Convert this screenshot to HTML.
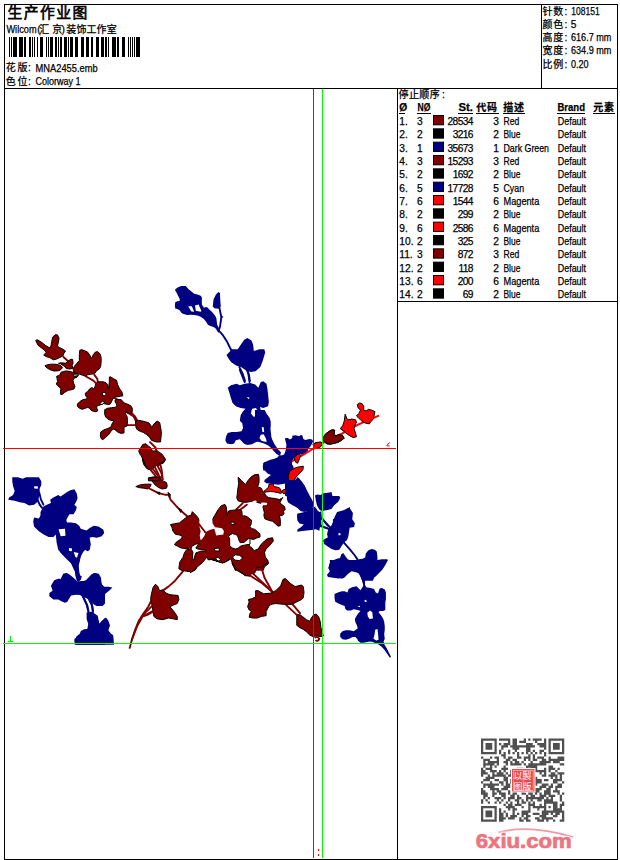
<!DOCTYPE html>
<html><head><meta charset="utf-8"><style>
html,body{margin:0;padding:0;background:#fff;width:620px;height:860px;overflow:hidden}
svg{position:absolute;left:0;top:0;display:block}
text{font-family:"Liberation Sans","Noto Sans CJK SC",sans-serif;fill:#000;stroke:#000;stroke-width:0.25px}
.t{font-size:10.2px}
.d{letter-spacing:-0.6px}
.c{font-family:"Noto Sans CJK SC","WenQuanYi Zen Hei",sans-serif;font-size:10px}
.h{font-weight:bold}
</style></head><body>
<svg width="620" height="860" viewBox="0 0 620 860">
<rect x="0" y="0" width="620" height="860" fill="#fff"/>
<g fill="none" stroke="#000" stroke-width="1" shape-rendering="crispEdges">
<path d="M4.5 4.5H617.5V859.5H4.5Z M4.5 88.5H617.5 M541.5 4.5V88.5 M397.5 88.5V859.5 M397.5 301.5H617.5"/>
</g>
<text class="c" x="7.6" y="18.4" style="font-size:14.8px;font-weight:normal;letter-spacing:1.4px;stroke:#000;stroke-width:0.6px">生产作业图</text>
<text class="t" x="6.4" y="33" textLength="30.2" lengthAdjust="spacingAndGlyphs">Wilcom</text>
<text class="t" x="37.3" y="33">(</text>
<text class="c" x="39.3" y="33">汇</text><text class="c" x="52.2" y="33">京</text>
<text class="t" x="61.6" y="33">)</text>
<text class="c" x="66.3" y="33" style="letter-spacing:0.1px">装饰工作室</text>
<g fill="#000"><rect x="9" y="37" width="1" height="20"/><rect x="11" y="37" width="1" height="20"/><rect x="13" y="37" width="4" height="20"/><rect x="19" y="37" width="4" height="20"/><rect x="24" y="37" width="2" height="20"/><rect x="29" y="37" width="2" height="20"/><rect x="32" y="37" width="1" height="20"/><rect x="34" y="37" width="1" height="20"/><rect x="37" y="37" width="1" height="20"/><rect x="40" y="37" width="3" height="20"/><rect x="46" y="37" width="1" height="20"/><rect x="48" y="37" width="1" height="20"/><rect x="50" y="37" width="3" height="20"/><rect x="55" y="37" width="2" height="20"/><rect x="58" y="37" width="1" height="20"/><rect x="60" y="37" width="2" height="20"/><rect x="64" y="37" width="3" height="20"/><rect x="68" y="37" width="1" height="20"/><rect x="70" y="37" width="3" height="20"/><rect x="75" y="37" width="3" height="20"/><rect x="81" y="37" width="3" height="20"/><rect x="86" y="37" width="3" height="20"/><rect x="91" y="37" width="2" height="20"/><rect x="96" y="37" width="3" height="20"/><rect x="101" y="37" width="3" height="20"/><rect x="105" y="37" width="2" height="20"/><rect x="108" y="37" width="1" height="20"/><rect x="112" y="37" width="4" height="20"/><rect x="117" y="37" width="2" height="20"/><rect x="122" y="37" width="3" height="20"/><rect x="128" y="37" width="1" height="20"/><rect x="130" y="37" width="1" height="20"/><rect x="132" y="37" width="1" height="20"/><rect x="134" y="37" width="1" height="20"/><rect x="136" y="37" width="4" height="20"/></g>
<text class="c" x="5.8" y="71.3">花</text><text class="c" x="17.4" y="71.3">版</text><text class="t" x="28" y="71.3">:</text>
<text class="t" x="35.6" y="72" textLength="62" lengthAdjust="spacingAndGlyphs">MNA2455.emb</text>
<text class="c" x="5.8" y="84.8">色</text><text class="c" x="17.4" y="84.8">位</text><text class="t" x="28" y="84.8">:</text>
<text class="t" x="35.6" y="85" textLength="45" lengthAdjust="spacingAndGlyphs">Colorway 1</text>
<g>
<text class="c" x="542.5" y="14.6">针</text><text class="c" x="553.3" y="14.6">数</text><text class="t" x="564.5" y="15">:</text><text class="t" x="571.3" y="15" textLength="28.4" lengthAdjust="spacingAndGlyphs">108151</text>
<text class="c" x="542.5" y="27.6">颜</text><text class="c" x="553.3" y="27.6">色</text><text class="t" x="564.5" y="28">:</text><text class="t" x="570.8" y="28">5</text>
<text class="c" x="542.5" y="40.6">高</text><text class="c" x="553.3" y="40.6">度</text><text class="t" x="564.5" y="41">:</text><text class="t" x="571" y="41" textLength="40.4" lengthAdjust="spacingAndGlyphs">616.7 mm</text>
<text class="c" x="542.5" y="53.6">宽</text><text class="c" x="553.3" y="53.6">度</text><text class="t" x="564.5" y="54">:</text><text class="t" x="571" y="54" textLength="40.4" lengthAdjust="spacingAndGlyphs">634.9 mm</text>
<text class="c" x="542.5" y="67.6">比</text><text class="c" x="553.3" y="67.6">例</text><text class="t" x="564.5" y="68">:</text><text class="t" x="571" y="68" textLength="17.6" lengthAdjust="spacingAndGlyphs">0.20</text>
</g>
<g class="t">
<text class="c" x="398.6" y="98.2" style="letter-spacing:0.35px">停止顺序</text><text x="442" y="97.8">:</text>
<g class="h">
<text x="399.2" y="110.8">Ø</text><text x="417.6" y="110.8" textLength="12.8" lengthAdjust="spacingAndGlyphs">NØ</text><text x="458.4" y="110.8" textLength="14.4" lengthAdjust="spacingAndGlyphs">St.</text>
<text class="c" x="476.3" y="111" style="font-weight:bold;letter-spacing:0.8px">代码</text><text class="c" x="503.2" y="111" style="font-weight:bold;letter-spacing:0.8px">描述</text><text x="557.5" y="110.8" textLength="27.5" lengthAdjust="spacingAndGlyphs">Brand</text><text class="c" x="593.2" y="111" style="font-weight:bold;letter-spacing:0.8px">元素</text>
</g>
<path d="M399 113.5h6M417 113.5h14M458 113.5h15M476 113.5h23M503 113.5h22M557 113.5h28M593 113.5h22" stroke="#000" stroke-width="1" shape-rendering="crispEdges"/>
<text x="399.3" y="125.0">1.</text><text class="d" x="417" y="125.0">3</text><rect x="433.5" y="115.50" width="10" height="9.3" fill="#800000" stroke="#000"/><text class="d" x="472.9" y="125.0" text-anchor="end">28534</text><text class="d" x="498.3" y="125.0" text-anchor="end">3</text><text x="503.5" y="125.0" textLength="15.8" lengthAdjust="spacingAndGlyphs">Red</text><text x="557.8" y="125.0" textLength="28.2" lengthAdjust="spacingAndGlyphs">Default</text><text x="399.3" y="138.33">2.</text><text class="d" x="417" y="138.33">2</text><rect x="433.5" y="128.83" width="10" height="9.3" fill="#000000" stroke="#000"/><text class="d" x="472.9" y="138.33" text-anchor="end">3216</text><text class="d" x="498.3" y="138.33" text-anchor="end">2</text><text x="503.5" y="138.33" textLength="16.8" lengthAdjust="spacingAndGlyphs">Blue</text><text x="557.8" y="138.33" textLength="28.2" lengthAdjust="spacingAndGlyphs">Default</text><text x="399.3" y="151.67">3.</text><text class="d" x="417" y="151.67">1</text><rect x="433.5" y="142.17" width="10" height="9.3" fill="#000080" stroke="#000"/><text class="d" x="472.9" y="151.67" text-anchor="end">35673</text><text class="d" x="498.3" y="151.67" text-anchor="end">1</text><text x="503.5" y="151.67" textLength="45.5" lengthAdjust="spacingAndGlyphs">Dark Green</text><text x="557.8" y="151.67" textLength="28.2" lengthAdjust="spacingAndGlyphs">Default</text><text x="399.3" y="165.0">4.</text><text class="d" x="417" y="165.0">3</text><rect x="433.5" y="155.50" width="10" height="9.3" fill="#800000" stroke="#000"/><text class="d" x="472.9" y="165.0" text-anchor="end">15293</text><text class="d" x="498.3" y="165.0" text-anchor="end">3</text><text x="503.5" y="165.0" textLength="15.8" lengthAdjust="spacingAndGlyphs">Red</text><text x="557.8" y="165.0" textLength="28.2" lengthAdjust="spacingAndGlyphs">Default</text><text x="399.3" y="178.33">5.</text><text class="d" x="417" y="178.33">2</text><rect x="433.5" y="168.83" width="10" height="9.3" fill="#000000" stroke="#000"/><text class="d" x="472.9" y="178.33" text-anchor="end">1692</text><text class="d" x="498.3" y="178.33" text-anchor="end">2</text><text x="503.5" y="178.33" textLength="16.8" lengthAdjust="spacingAndGlyphs">Blue</text><text x="557.8" y="178.33" textLength="28.2" lengthAdjust="spacingAndGlyphs">Default</text><text x="399.3" y="191.67">6.</text><text class="d" x="417" y="191.67">5</text><rect x="433.5" y="182.17" width="10" height="9.3" fill="#000080" stroke="#000"/><text class="d" x="472.9" y="191.67" text-anchor="end">17728</text><text class="d" x="498.3" y="191.67" text-anchor="end">5</text><text x="503.5" y="191.67" textLength="20.6" lengthAdjust="spacingAndGlyphs">Cyan</text><text x="557.8" y="191.67" textLength="28.2" lengthAdjust="spacingAndGlyphs">Default</text><text x="399.3" y="205.0">7.</text><text class="d" x="417" y="205.0">6</text><rect x="433.5" y="195.50" width="10" height="9.3" fill="#ff0000" stroke="#000"/><text class="d" x="472.9" y="205.0" text-anchor="end">1544</text><text class="d" x="498.3" y="205.0" text-anchor="end">6</text><text x="503.5" y="205.0" textLength="35.8" lengthAdjust="spacingAndGlyphs">Magenta</text><text x="557.8" y="205.0" textLength="28.2" lengthAdjust="spacingAndGlyphs">Default</text><text x="399.3" y="218.33">8.</text><text class="d" x="417" y="218.33">2</text><rect x="433.5" y="208.83" width="10" height="9.3" fill="#000000" stroke="#000"/><text class="d" x="472.9" y="218.33" text-anchor="end">299</text><text class="d" x="498.3" y="218.33" text-anchor="end">2</text><text x="503.5" y="218.33" textLength="16.8" lengthAdjust="spacingAndGlyphs">Blue</text><text x="557.8" y="218.33" textLength="28.2" lengthAdjust="spacingAndGlyphs">Default</text><text x="399.3" y="231.66">9.</text><text class="d" x="417" y="231.66">6</text><rect x="433.5" y="222.16" width="10" height="9.3" fill="#ff0000" stroke="#000"/><text class="d" x="472.9" y="231.66" text-anchor="end">2586</text><text class="d" x="498.3" y="231.66" text-anchor="end">6</text><text x="503.5" y="231.66" textLength="35.8" lengthAdjust="spacingAndGlyphs">Magenta</text><text x="557.8" y="231.66" textLength="28.2" lengthAdjust="spacingAndGlyphs">Default</text><text x="399.3" y="245.0">10.</text><text class="d" x="417" y="245.0">2</text><rect x="433.5" y="235.50" width="10" height="9.3" fill="#000000" stroke="#000"/><text class="d" x="472.9" y="245.0" text-anchor="end">325</text><text class="d" x="498.3" y="245.0" text-anchor="end">2</text><text x="503.5" y="245.0" textLength="16.8" lengthAdjust="spacingAndGlyphs">Blue</text><text x="557.8" y="245.0" textLength="28.2" lengthAdjust="spacingAndGlyphs">Default</text><text x="399.3" y="258.33">11.</text><text class="d" x="417" y="258.33">3</text><rect x="433.5" y="248.83" width="10" height="9.3" fill="#800000" stroke="#000"/><text class="d" x="472.9" y="258.33" text-anchor="end">872</text><text class="d" x="498.3" y="258.33" text-anchor="end">3</text><text x="503.5" y="258.33" textLength="15.8" lengthAdjust="spacingAndGlyphs">Red</text><text x="557.8" y="258.33" textLength="28.2" lengthAdjust="spacingAndGlyphs">Default</text><text x="399.3" y="271.66">12.</text><text class="d" x="417" y="271.66">2</text><rect x="433.5" y="262.16" width="10" height="9.3" fill="#000000" stroke="#000"/><text class="d" x="472.9" y="271.66" text-anchor="end">118</text><text class="d" x="498.3" y="271.66" text-anchor="end">2</text><text x="503.5" y="271.66" textLength="16.8" lengthAdjust="spacingAndGlyphs">Blue</text><text x="557.8" y="271.66" textLength="28.2" lengthAdjust="spacingAndGlyphs">Default</text><text x="399.3" y="285.0">13.</text><text class="d" x="417" y="285.0">6</text><rect x="433.5" y="275.50" width="10" height="9.3" fill="#ff0000" stroke="#000"/><text class="d" x="472.9" y="285.0" text-anchor="end">200</text><text class="d" x="498.3" y="285.0" text-anchor="end">6</text><text x="503.5" y="285.0" textLength="35.8" lengthAdjust="spacingAndGlyphs">Magenta</text><text x="557.8" y="285.0" textLength="28.2" lengthAdjust="spacingAndGlyphs">Default</text><text x="399.3" y="298.33">14.</text><text class="d" x="417" y="298.33">2</text><rect x="433.5" y="288.83" width="10" height="9.3" fill="#000000" stroke="#000"/><text class="d" x="472.9" y="298.33" text-anchor="end">69</text><text class="d" x="498.3" y="298.33" text-anchor="end">2</text><text x="503.5" y="298.33" textLength="16.8" lengthAdjust="spacingAndGlyphs">Blue</text><text x="557.8" y="298.33" textLength="28.2" lengthAdjust="spacingAndGlyphs">Default</text>
</g>
<g id="design">
<defs><style>
.B{fill:#000080}
.M{fill:#800000;stroke:#000;stroke-width:1;vector-effect:non-scaling-stroke}
.R{fill:#ff0000;stroke:#000;stroke-width:1;vector-effect:non-scaling-stroke}
.W{fill:#fff}
.Mf{fill:#800000}
.k{fill:none;stroke:#000;stroke-width:1;vector-effect:non-scaling-stroke}
.Wo{fill:#fff;stroke:#000;stroke-width:1;vector-effect:non-scaling-stroke}
.sb{fill:none;stroke:#000080;stroke-width:1.9;vector-effect:non-scaling-stroke;stroke-linejoin:round;stroke-linecap:round}
.sm{fill:none;stroke:#800000;stroke-width:1.9;vector-effect:non-scaling-stroke;stroke-linejoin:round;stroke-linecap:round}
.sr{fill:none;stroke:#ff0000;stroke-width:1.9;vector-effect:non-scaling-stroke;stroke-linejoin:round;stroke-linecap:round}
</style></defs>
<!-- R1 [170,280] -->
<g transform="translate(170,280) scale(0.16129)">
<polygon class="B" points="265,165 270,120 285,90 300,75 310,80 312,130 315,165 300,178 275,175"/>
<polyline class="sb" points="305,165 318,230 310,290 300,318 310,322 330,345 355,385 372,420 385,445"/>
<polygon class="B" points="316,220 332,228 318,240"/>
<polygon class="B" points="350,465 385,430 420,430 440,400 460,370 480,360 505,375 515,400 520,440 555,430 585,430 590,450 575,500 560,540 530,565 500,570 470,560 440,540 410,530 380,510 365,490"/>
<polyline class="sb" points="430,540 450,580 465,625"/>
<polyline class="sb" points="475,555 490,590 495,625"/>
</g>
<!-- R2 [210,370] -->
<g transform="translate(210,370) scale(0.16129)">
<polyline class="sb" points="185,0 215,75"/>
<polyline class="sb" points="235,0 245,75"/>
<polygon class="B" points="110,110 130,95 165,85 185,95 215,85 250,80 280,90 300,110 315,75 330,70 350,85 355,110 360,150 365,200 360,225 330,235 310,230 315,250 340,280 360,300 375,320 375,350 365,380 380,420 400,460 420,490 440,510 435,530 410,520 385,480 360,460 340,440 320,430 300,440 280,450 260,460 230,465 210,455 195,440 185,430 160,435 150,455 130,460 105,455 95,435 100,410 110,390 135,385 165,385 195,380 205,360 200,330 185,315 190,280 205,255 220,240 190,235 160,225 140,205 130,175 120,140"/>
<polygon class="W" points="262,240 285,236 296,255 292,285 270,290 254,270 258,250"/>
<polygon class="W" points="228,168 245,170 240,182"/>
<polygon class="W" points="315,400 335,405 330,422 312,418"/>
</g>
<!-- R3 [250,420] -->
<g transform="translate(250,420) scale(0.16129)">
<polygon class="B" points="540,570 580,560 620,540 620,620 520,620 525,600"/>
<polygon class="R" points="390,150 410,140 440,140 445,150 430,170 400,180"/>
<polygon class="M" points="450,115 470,95 490,70 510,60 525,65 520,95 540,95 570,90 580,105 570,125 545,140 520,145 500,150 480,150 465,140 455,130"/>
</g>
<!-- R4 [300,390] -->
<g transform="translate(300,390) scale(0.16129)">
<polyline class="sr" points="90,360 140,330 260,270 360,215 485,160"/>
<polygon class="R" points="355,90 370,80 385,85 395,100 395,125 410,130 425,120 445,125 465,135 460,155 455,180 440,195 430,210 405,205 385,195 375,185 360,170 350,160 365,145 375,125 360,110"/>
<polygon class="R" points="250,240 265,220 275,190 280,150 290,175 300,185 320,180 345,185 350,200 340,220 335,240 345,270 350,290 330,295 310,285 295,275 270,255"/>
<polygon class="M" points="145,290 160,270 185,255 205,245 215,250 210,275 220,285 245,275 265,285 275,300 255,310 235,320 215,330 190,335 170,330 150,320 140,305"/>
<polygon class="R" points="85,335 105,325 130,322 140,335 125,355 100,360 85,360"/>
<polyline points="555,325 538,345 555,348" fill="none" stroke="#ff0000" stroke-width="1" vector-effect="non-scaling-stroke"/>
</g>
<!-- R5 [300,470] -->
<g transform="translate(300,470) scale(0.16129)">
<polyline class="sb" points="135,300 185,355"/>
<polyline class="sb" points="135,350 180,365"/>
</g>
<!-- R6 [300,560] -->
<g transform="translate(300,560) scale(0.16129)">
<polygon class="B" points="185,0 545,0 530,30 510,60 490,80 470,100 450,115 430,110 400,100 375,85 340,75 320,70 290,90 270,110 240,115 205,110 175,105 170,90 185,70 175,50 185,20"/>
<polyline class="sb" points="375,85 390,125 400,165"/>
<polygon class="M" points="-20,338 0,340 15,350 40,370 60,380 70,360 85,340 100,335 115,350 125,380 130,420 140,455 145,470 130,475 100,470 80,475 60,465 40,445 20,430 0,420 -20,405"/>
<path class="sm" d="M95,480 Q110,470 120,490 Q115,505 100,500"/>
</g>
<!-- R7 [200,470] -->
<g transform="translate(200,470) scale(0.16129)">
<polyline class="sm" points="225,245 265,205"/>
<polyline class="sm" points="245,250 290,215"/>
<polygon class="M" points="0,390 30,375 60,365 90,370 110,380 125,410 150,405 180,420 190,440 180,470 200,480 210,505 195,530 185,555 160,570 140,575 110,565 80,560 60,545 40,540 20,555 0,560"/>
<polygon class="W" points="0,493 40,495 38,507 0,506"/>
<polygon class="W" points="85,488 120,490 118,502 86,500"/>
<polygon class="Mf" points="240,480 270,470 300,470 320,480 335,500 360,490 380,460 400,440 420,425 450,420 455,440 430,470 410,490 400,510 405,540 420,560 425,580 400,600 390,625 220,625 210,600 200,580 210,560 225,545 230,510"/>
<polyline class="k" points="390,625 400,600 425,580 420,560 405,540 400,510 410,490 430,470 455,440 450,420 420,425 400,440 380,460 360,490 335,500 320,480 300,470 270,470 240,480 230,510 225,545 210,560 200,580 210,600 220,625"/>
<polygon class="W" points="212,530 255,528 258,558 215,560"/>
</g>
<!-- R8 [110,460] -->
<g transform="translate(110,460) scale(0.16129)">
<polygon class="Mf" points="200,-5 345,-5 330,20 310,25 300,40 280,30 270,50 250,60 230,55 210,30"/>
<polyline class="k" points="345,-5 330,20 310,25 300,40 280,30 270,50 250,60 230,55 210,30 200,-5"/>
<polyline class="sm" points="265,55 300,100 320,110"/>
<polyline class="sm" points="310,20 320,60 325,100"/>
<polygon class="M" points="240,110 270,105 300,110 330,130 350,140 355,160 350,175 325,180 300,170 280,155 260,130"/>
<polygon class="M" points="160,165 185,155 215,150 255,150 250,165 235,180 210,175 185,172"/>
<polyline class="sm" points="240,175 270,190 300,205 340,215 365,215 375,245 410,285 440,315 480,350 520,390 560,420 590,445"/>
<polygon class="M" points="290,200 310,200 305,215"/>
<polygon class="M" points="360,200 375,215 368,235"/>
<polygon class="M" points="425,300 445,310 438,325"/>
<polygon class="M" points="375,400 400,395 430,390 455,370 480,350 505,340 510,320 520,330 540,350 555,375 550,410 560,440 555,480 555,510 525,520 500,530 490,545 470,550 440,545 420,535 400,525 410,510 440,490 450,475 430,465 405,460 390,440 385,420"/>
</g>
<!-- R9 [120,560] -->
<g transform="translate(120,560) scale(0.16129)">
<polyline class="sm" points="390,70 340,130 300,165 265,190"/>
<polyline class="sm" points="200,240 175,290 140,340 115,380 95,430 75,490 60,545"/>
<polyline class="sm" points="205,320 170,340 140,350"/>
<polygon class="M" points="195,210 205,170 220,150 235,165 245,190 265,185 285,205 310,215 360,220 365,245 355,270 330,280 310,290 335,320 355,350 355,370 330,365 300,360 265,370 230,365 210,350 205,320 200,290 195,260 190,240"/>
</g>
<!-- R10 [200,560] -->
<g transform="translate(200,560) scale(0.16129)">
<polygon class="Mf" points="200,0 420,0 415,20 395,30 385,45 350,45 340,80 310,90 280,95 255,80 230,65 210,45 200,20"/>
<polyline class="k" points="420,0 415,20 395,30 385,45 350,45 340,80 310,90 280,95 255,80 230,65 210,45 200,20 200,0"/>
<polyline class="sm" points="300,90 380,140 450,200"/>
<polyline class="sm" points="380,45 400,110 450,200"/>
<polyline class="sm" points="330,85 420,170"/>
<polyline class="sm" points="535,280 600,340"/>
<polyline class="sm" points="570,270 620,330"/>
<polygon class="M" points="295,290 305,260 300,245 320,240 345,230 345,190 360,190 395,210 440,205 470,190 500,160 515,120 530,115 560,145 590,165 630,155 640,165 645,200 640,235 630,245 600,260 570,275 520,275 470,270 440,275 425,290 410,320 410,345 380,350 355,360 330,360 305,355 310,330 320,320 305,310"/>
</g>
<!-- R11 [100,380] -->
<g transform="translate(100,380) scale(0.16129)">
<polyline class="sm" points="310,385 345,420 350,440"/>
<polygon class="M" points="240,440 265,400 285,395 300,410 315,420 325,440 355,440 385,460 405,490 400,505 380,515 365,520 350,530 330,545 310,555 295,550 280,525 270,500 255,470 245,455"/>
<polyline class="sm" points="330,520 360,580 375,615"/>
<polyline class="sm" points="350,520 380,575 390,615"/>
<polyline class="sm" points="300,540 340,590 360,615"/>
<polygon class="M" points="300,608 350,600 375,610 370,625 300,625"/>
</g>
<!-- R12 [30,330] -->
<g transform="translate(30,330) scale(0.16129)">
<polygon class="M" points="35,65 45,60 70,75 95,95 120,110 130,100 135,70 140,45 155,30 170,30 180,50 175,80 170,100 185,110 205,120 220,130 210,145 205,160 185,170 165,180 145,185 120,170 100,165 85,155 100,140 90,125 70,110 50,95"/>
</g>
<!-- R13 [5,470] -->
<g transform="translate(5,470) scale(0.16129)">
<polygon class="B" points="45,45 80,45 110,55 130,45 165,45 210,45 225,70 225,95 215,115 215,140 205,195 180,215 150,220 120,205 90,200 60,190 20,185 25,170 50,155 60,130 50,100 45,70"/>
<polygon class="W" points="180,100 205,102 203,117 182,115"/>
<polyline class="sb" points="212,140 222,180 238,215"/>
<polyline class="sb" points="200,180 215,215 230,235"/>
<polygon class="B" points="220,260 240,225 260,215 285,205 280,185 300,170 330,155 345,165 365,150 380,140 405,125 430,120 445,145 450,175 440,200 430,215 445,230 440,250 425,275 400,275 390,290 380,310 385,325 410,325 440,330 460,345 470,365 505,375 525,360 550,345 580,350 610,370 615,390 600,410 570,420 540,415 525,420 530,455 525,490 515,500 500,495 480,500 470,520 465,560 455,600 460,625 430,625 410,580 380,550 350,520 330,495 320,450 315,400 300,415 270,415 240,400 210,380 180,350 175,320 180,295 210,300 220,280"/>
<polygon class="W" points="332,368 372,365 375,408 345,410"/>
<polygon class="W" points="396,485 414,487 412,505 397,503"/>
<polygon class="W" points="432,508 458,510 452,545 440,540"/>
</g>
<!-- R14 [5,560] -->
<g transform="translate(5,560) scale(0.16129)">
<polygon class="B" points="395,-5 460,-5 455,20 450,60 455,90 465,110 455,130 445,110 440,80 425,40"/>
<polygon class="B" points="285,160 305,125 335,115 355,125 365,90 380,80 405,95 430,115 450,135 470,130 500,130 520,110 535,90 560,80 580,90 595,120 600,150 620,170 620,270 605,285 570,285 555,265 540,245 510,230 475,215 440,215 410,220 400,235 385,260 370,265 350,255 330,245 300,245 275,225 275,205 295,190"/>
<polyline class="sb" points="480,220 510,280 520,330"/>
<polyline class="sb" points="535,240 545,330"/>
<polygon class="B" points="510,325 545,325 575,345 580,370 585,395 600,380 620,360 620,525 445,525 430,510 430,490 460,470 470,440 490,430 520,430 520,390 510,360"/>
</g>
<!-- R15 [60,540] -->
<g transform="translate(60,540) scale(0.16129)">
<polygon class="B" points="0,0 185,0 190,30 185,60 170,70 155,60 140,80 130,100 120,130 115,160 120,200 125,220 135,225 130,245 115,260 105,255 95,220 90,180 75,140 60,120 45,100 30,90 10,80 0,75"/>
<polygon class="W" points="55,50 75,52 73,70 57,68"/>
<polygon class="W" points="85,75 115,80 105,110 95,105"/>
<polygon class="B" points="0,250 20,210 40,205 60,215 80,240 100,260 130,260 160,250 185,225 210,205 240,210 255,235 255,265 265,290 300,290 325,295 310,310 285,330 260,360 245,395 230,410 210,400 195,380 180,370 160,360 140,350 120,340 90,335 60,340 40,380 25,385 5,370 0,350"/>
<polyline class="sb" points="145,355 165,400 175,440"/>
<polyline class="sb" points="180,370 200,410 205,440"/>
<polygon class="B" points="165,450 195,445 215,460 235,490 240,525 260,500 285,480 300,500 310,530 300,560 315,580 330,590 335,650 90,650 100,600 125,580 145,560 170,550 175,520 165,490"/>
<polyline class="sm" points="445,620 480,530 520,460 570,410"/>
<polyline class="sm" points="520,470 575,440"/>
</g>
<!-- green mark -->
<path d="M10.5 636V641 M8 641.5H13" stroke="#00ff00" stroke-width="1" fill="none"/>
<!-- red colon bottom -->
<rect x="318" y="849" width="1" height="2" fill="#ff0000"/><rect x="318" y="854" width="1" height="2" fill="#ff0000"/>
<!-- K refined [230,470] s=60 -->
<g transform="translate(230,470) scale(0.096774)">
<polygon class="M" points="85,75 120,110 160,150 185,110 215,75 250,50 295,45 300,80 300,130 285,175 320,185 335,210 350,230 375,270 400,285 430,290 470,295 510,305 530,295 545,285 525,320 515,340 540,360 565,380 570,410 550,425 560,450 540,470 510,475 520,510 520,575 495,580 470,555 440,530 400,520 360,505 350,470 355,440 345,400 340,380 350,360 330,345 300,340 260,330 220,325 160,335 125,330 85,320 70,290 75,250 80,200 90,140 85,100"/>
<polygon class="W" points="232,322 262,315 280,328 262,345 238,342"/>
<polygon class="W" points="318,338 352,335 385,342 380,362 345,365 325,352"/>
</g>
<!-- L refined [210,500] s=50 -->
<g transform="translate(210,500) scale(0.080645)">
<polygon class="M" points="30,240 60,190 100,120 140,70 185,55 200,80 210,150 215,200 225,140 250,130 300,125 380,120 395,140 400,200 430,195 465,210 495,235 515,250 510,300 495,330 520,355 560,365 590,395 620,420 620,460 580,470 540,490 500,480 460,490 430,520 380,525 360,470 330,440 290,420 255,430 220,440 195,430 165,420 130,380 95,340 60,330 30,310 20,275"/>
<polygon class="W" points="255,285 275,270 300,272 295,300 265,305"/>
<polygon class="W" points="272,405 300,395 330,412 320,430 290,425"/>
</g>
<!-- E refined [255,410] s=60 -->
<g transform="translate(255,410) scale(0.096774)">
<polygon class="B" points="0,0 100,0 120,40 150,80 160,110 160,200 165,240 170,290 185,340 200,380 215,410 240,440 262,462 250,475 225,450 195,425 170,395 140,370 100,350 60,335 20,325 0,325"/>
<polygon class="W" points="70,175 90,178 95,230 75,225"/>
<polygon class="W" points="45,290 60,255 90,250 115,300 120,330 70,320"/>
<polygon class="B" points="310,300 315,290 340,290 360,305 385,290 385,265 420,260 455,270 475,255 490,265 500,300 520,310 560,300 590,305 600,320 590,350 570,380 550,400 545,420 530,440 510,460 490,470 470,455 440,460 420,475 400,500 385,530 380,570 390,600 395,625 85,625 80,580 90,550 120,530 160,515 200,505 230,490 250,470 280,468 300,460 310,440 320,400 325,360"/>
<polyline class="sr" points="375,535 470,480 600,400 640,380"/>
<polygon class="R" points="410,490 430,465 460,450 470,470 460,500 450,530 440,550 420,540 410,515"/>
</g>
<!-- E lower [255,460] s=60 -->
<g transform="translate(255,460) scale(0.096774)">
<polygon class="B" points="85,30 100,20 215,15 240,0 380,0 380,40 400,75 390,100 370,120 355,150 345,200 350,230 330,240 300,245 270,250 240,255 200,250 160,245 120,240 95,225 100,205 125,185 150,165 165,155 130,140 110,120 95,95 85,60"/>
<polygon class="B" points="385,235 410,210 430,190 440,175 460,195 490,230 515,270 540,320 565,370 590,410 600,440 600,480 580,500 565,510 545,525 510,530 480,525 455,505 420,480 390,465 360,440 340,410 330,375 340,360 370,350 385,330 395,290 390,260"/>
<polygon class="B" points="440,560 470,550 520,545 560,510 600,490 625,480 625,625 440,625"/>
<polygon class="R" points="95,320 120,300 140,280 145,250 190,250 195,275 230,280 255,290 265,310 275,340 265,345 230,335 200,330 160,325 120,330 100,335"/>
<polygon class="R" points="275,320 300,305 330,300 365,305 395,320 380,340 350,345 320,350 290,345"/>
<polygon class="R" points="345,160 355,125 380,100 420,80 460,70 500,65 495,100 470,130 440,155 420,185 400,215 385,235 355,240 345,210"/>
</g>
<!-- bottom-left leaf [120,480] s=100 -->
<g transform="translate(120,480) scale(0.16129)">
<polygon class="M" points="365,550 370,510 390,480 400,450 415,430 430,425 445,460 450,490 460,470 480,455 500,445 530,440 540,460 520,490 500,510 480,530 470,555 445,570 410,565 380,560"/>
<polygon class="M" points="480,400 500,370 520,340 545,320 565,305 590,300 600,340 620,345 620,500 600,505 580,490 555,495 540,470 520,450 500,440 485,420"/>
</g>
<!-- dense cluster [190,520] s=60 -->
<g transform="translate(190,520) scale(0.096774)">
<polygon class="Mf" points="60,0 620,0 620,580 570,575 530,540 500,510 470,480 440,450 430,420 420,400 380,420 340,445 300,435 265,420 240,400 200,410 185,410 180,380 165,395 130,440 80,480 40,520 0,545 0,60"/>
<polyline class="k" points="620,580 570,575 530,540 500,510 470,480 440,450 430,420 420,400 380,420 340,445 300,435 265,420 240,400 200,410 185,410 180,380 165,395 130,440 80,480 40,520 0,545"/>
<polygon class="W" points="100,-30 230,-30 230,0 235,40 260,75 300,80 330,85 350,110 345,150 300,155 270,160 260,120 250,90 210,100 170,120 150,160 130,190 110,210 100,160 110,120 100,80 95,40"/>
<polygon class="Wo" points="20,270 60,250 90,240 80,260 60,290 80,300 120,305 160,310 165,320 120,320 60,340 35,420 25,400 30,330 10,300"/>
<polygon class="Wo" points="410,155 440,140 470,150 490,160 500,190 510,220 520,235 560,230 600,195 620,190 620,250 560,260 520,270 500,290 470,300 440,290 410,270 410,200 400,170"/>
<polygon class="Wo" points="440,380 470,360 510,365 535,380 540,400 510,420 470,415 450,405"/>
<polygon class="Wo" points="250,295 300,290 305,320 260,320"/>
<polygon class="Wo" points="265,390 290,385 315,410 300,425 275,415"/>
<polygon class="Wo" points="420,25 450,20 460,45 430,50"/>
</g>
<!-- F refined [285,480] s=60 -->
<g transform="translate(285,480) scale(0.096774)">
<polygon class="B" points="20,0 140,0 175,30 205,60 215,100 240,140 260,190 280,220 290,260 285,290 255,290 230,320 200,330 160,320 130,290 100,270 60,250 30,230 20,200 20,170 0,160 0,20"/>
<polygon class="B" points="125,350 160,340 200,330 230,320 255,290 285,290 300,300 320,290 340,320 360,330 375,320 380,380 375,430 380,480 360,490 355,525 320,510 290,515 250,520 200,525 160,530 125,535 130,510 160,490 195,460 150,450 130,420 125,380"/>
<polygon class="B" points="310,160 330,150 370,155 385,140 420,135 460,130 480,125 490,165 520,165 560,165 570,180 560,210 545,230 520,250 500,270 480,300 440,310 410,315 380,320 360,310 345,290 330,260 320,220"/>
<polyline class="sb" points="385,400 440,470"/>
<polyline class="sb" points="380,480 440,500"/>
<polygon class="B" points="450,500 480,470 500,430 520,400 550,380 580,340 625,320 625,625 440,625 440,560"/>
</g>
<!-- LD [45,340] s=60 -->
<g transform="translate(45,340) scale(0.096774)">
<polyline class="sm" points="190,175 240,220 265,240"/>
<polygon class="M" points="240,220 260,200 285,200 290,240 280,265 290,290 260,300 220,295 200,270 180,260 160,245 140,240 170,235 210,240"/>
<polygon class="M" points="0,265 30,255 60,250 100,250 140,255 165,265 180,285 170,300 150,315 120,320 90,320 60,310 30,295 10,280"/>
<polygon class="M" points="290,300 305,270 330,240 355,215 355,150 360,105 380,100 410,110 440,125 465,160 480,190 500,150 520,125 545,120 570,145 580,180 580,230 575,275 560,300 530,320 520,340 500,350 470,355 440,360 420,375 390,365 350,350 320,350 300,340"/>
<polygon class="M" points="120,375 150,365 165,335 190,325 220,320 260,325 290,335 330,345 345,360 330,385 300,395 290,420 295,445 310,480 300,505 270,515 240,520 205,540 175,565 160,560 160,530 165,500 150,490 130,470 115,455 130,430 125,400"/>
<polygon class="Wo" points="290,355 340,352 345,368 300,375"/>
<polyline class="sm" points="420,375 500,420 520,440"/>
<polyline class="sm" points="510,360 540,400 545,430"/>
</g>
<!-- LE [75,375] s=60 -->
<g transform="translate(75,375) scale(0.096774)">
<polyline class="sm" points="400,235 450,260 500,290 560,350 600,410 640,470"/>
<polygon class="M" points="25,300 50,275 80,255 110,250 130,240 110,215 105,190 130,170 155,140 175,130 195,145 210,110 215,85 240,70 290,70 320,80 340,100 345,140 350,130 355,70 355,20 370,20 400,40 430,55 440,100 460,140 485,175 495,215 470,220 440,225 410,230 390,245 380,270 365,300 340,305 320,300 295,295 270,305 245,315 225,320 225,340 235,370 215,380 190,375 165,365 155,345 130,335 100,345 75,355 50,345 25,325"/>
<polygon class="Wo" points="282,185 300,178 325,195 310,215 285,210"/>
<polygon class="Wo" points="258,292 285,272 305,280 290,300 262,305"/>
</g>
<!-- LV [95,400] s=60 -->
<g transform="translate(95,400) scale(0.096774)">
<polyline class="sm" points="320,120 400,170 430,230"/>
<polyline class="sm" points="340,115 410,165 440,220"/>
<polyline class="sm" points="335,260 420,260"/>
<polygon class="M" points="100,100 130,85 170,80 210,75 225,60 220,40 205,10 215,-5 270,-5 300,30 340,45 370,60 385,85 385,120 370,140 340,135 320,120 315,140 330,160 335,200 335,240 330,270 300,280 300,310 300,340 270,345 240,335 215,315 195,300 175,310 160,330 140,360 110,385 80,410 65,400 55,370 60,330 90,310 130,295 165,280 170,260 185,230 200,215 160,210 130,195 110,175 100,150"/>
<polygon class="W" points="322,142 345,150 360,172 335,168"/>
<polygon class="M" points="420,215 450,210 480,215 520,225 555,235 575,260 585,285 600,260 620,235 643,218 669,235 677,277 685,327 685,358 677,434 636,434 585,418 560,380 530,355 500,335 470,325 440,310 425,290 420,260"/>
</g>
<!-- A refined [170,282] s=50 -->
<g transform="translate(170,282) scale(0.080645)">
<polygon class="B" points="65,90 100,65 140,50 195,50 230,90 270,120 300,145 340,155 380,170 395,190 395,280 410,300 420,320 445,310 465,315 490,345 520,370 545,400 560,420 575,450 580,490 585,530 600,560 620,580 620,620 590,610 560,570 530,555 500,545 470,530 450,495 420,460 380,430 340,415 300,410 260,405 220,410 200,405 160,395 140,380 120,350 90,335 65,330 60,290 65,250 90,240 120,235 120,210 100,170 80,130 65,110"/>
<polygon class="W" points="225,300 270,300 295,355 300,370 265,365"/>
<polygon class="W" points="310,290 355,280 390,360 380,370 320,355"/>
</g>
<!-- J refined [330,580] s=70 -->
<g transform="translate(330,580) scale(0.112903)">
<polygon class="B" points="40,125 70,110 105,100 130,100 155,110 165,80 195,65 235,55 255,75 270,90 290,60 300,40 295,0 310,0 310,45 320,65 360,70 390,80 405,110 425,120 440,75 460,70 485,85 495,110 495,170 490,200 490,265 470,275 440,275 430,285 450,310 470,340 480,370 485,410 485,440 480,480 485,520 475,545 480,570 500,600 520,640 540,680 530,688 505,650 480,615 455,590 430,572 400,560 380,550 355,545 330,550 300,555 270,555 250,540 240,520 225,505 200,505 170,520 140,530 110,525 90,505 90,475 110,455 140,445 175,445 210,455 245,430 240,405 225,375 220,345 240,310 255,290 270,275 245,265 210,260 185,270 150,270 135,255 130,230 100,220 70,205 45,190 40,155"/>
<polygon class="W" points="330,290 355,270 375,285 380,340 350,345 335,320"/>
<polygon class="W" points="400,440 420,435 425,470 430,530 410,535 385,520 395,480"/>
<polygon class="W" points="305,180 320,175 325,195 310,195"/>
<polygon class="W" points="250,230 265,228 265,240 252,240"/>
</g>
<!-- H,I refined [320,500] s=80 -->
<g transform="translate(320,500) scale(0.129032)">
<polyline class="sb" points="185,330 230,380 270,430 290,460"/>
<polyline class="sb" points="290,540 320,590 335,625"/>
<polygon class="B" points="100,150 145,125 175,135 180,100 210,65 235,70 255,100 250,150 270,180 265,210 230,215 225,245 220,280 210,310 185,330 165,360 150,385 120,390 90,380 60,360 30,340 25,310 50,295 75,290 55,270 60,240 75,215 95,195 100,170"/>
<polygon class="W" points="142,258 156,255 160,272 145,275"/>
<polygon class="B" points="55,580 75,560 90,540 70,500 95,470 130,455 155,450 165,420 180,410 200,440 215,460 240,470 270,470 300,460 330,455 350,445 355,415 375,390 400,380 425,385 440,400 445,440 445,465 480,460 525,460 510,490 490,520 460,555 440,580 420,600 410,625 340,625 315,570 295,560 270,555 250,545 230,560 210,580 190,600 170,610 145,600 120,590 90,590 60,595"/>
</g>
<polyline class="sm" points="196,521 200,525.5 205.5,532.5"/>

</g>
<g shape-rendering="crispEdges" stroke-width="1" fill="none">
<path d="M3 448.5H396" stroke="#ff0000"/>
<path d="M313.5 89V858" stroke="#ff0000"/>
<path d="M3 643.5H396" stroke="#00ff00"/>
<path d="M322.5 89V858" stroke="#00ff00"/>
</g>
<g transform="translate(481,738.5) scale(2.25)" fill="#505050"><path d="M0 0h7v1h-7zM8 0h5v1h-5zM14 0h2v1h-2zM19 0h1v1h-1zM21 0h1v1h-1zM23 0h4v1h-4zM28 0h1v1h-1zM30 0h7v1h-7zM0 1h1v1h-1zM6 1h1v1h-1zM12 1h1v1h-1zM14 1h2v1h-2zM17 1h3v1h-3zM24 1h1v1h-1zM28 1h1v1h-1zM30 1h1v1h-1zM36 1h1v1h-1zM0 2h1v1h-1zM2 2h3v1h-3zM6 2h1v1h-1zM8 2h1v1h-1zM10 2h3v1h-3zM14 2h2v1h-2zM20 2h3v1h-3zM25 2h4v1h-4zM30 2h1v1h-1zM32 2h3v1h-3zM36 2h1v1h-1zM0 3h1v1h-1zM2 3h3v1h-3zM6 3h1v1h-1zM9 3h3v1h-3zM13 3h11v1h-11zM26 3h3v1h-3zM30 3h1v1h-1zM32 3h3v1h-3zM36 3h1v1h-1zM0 4h1v1h-1zM2 4h3v1h-3zM6 4h1v1h-1zM9 4h1v1h-1zM14 4h3v1h-3zM20 4h2v1h-2zM28 4h1v1h-1zM30 4h1v1h-1zM32 4h3v1h-3zM36 4h1v1h-1zM0 5h1v1h-1zM6 5h1v1h-1zM8 5h1v1h-1zM12 5h1v1h-1zM15 5h1v1h-1zM20 5h2v1h-2zM23 5h1v1h-1zM26 5h2v1h-2zM30 5h1v1h-1zM36 5h1v1h-1zM0 6h7v1h-7zM8 6h1v1h-1zM10 6h1v1h-1zM12 6h1v1h-1zM14 6h1v1h-1zM16 6h1v1h-1zM18 6h1v1h-1zM20 6h1v1h-1zM22 6h1v1h-1zM24 6h1v1h-1zM26 6h1v1h-1zM28 6h1v1h-1zM30 6h7v1h-7zM9 7h2v1h-2zM16 7h1v1h-1zM21 7h1v1h-1zM23 7h1v1h-1zM28 7h1v1h-1zM0 8h1v1h-1zM4 8h1v1h-1zM6 8h2v1h-2zM10 8h1v1h-1zM12 8h2v1h-2zM16 8h2v1h-2zM19 8h3v1h-3zM23 8h1v1h-1zM25 8h3v1h-3zM30 8h1v1h-1zM34 8h3v1h-3zM1 9h3v1h-3zM7 9h1v1h-1zM11 9h2v1h-2zM14 9h2v1h-2zM19 9h1v1h-1zM21 9h1v1h-1zM23 9h2v1h-2zM27 9h2v1h-2zM30 9h7v1h-7zM1 10h1v1h-1zM3 10h5v1h-5zM10 10h2v1h-2zM13 10h1v1h-1zM15 10h2v1h-2zM18 10h1v1h-1zM22 10h1v1h-1zM26 10h5v1h-5zM32 10h3v1h-3zM1 11h5v1h-5zM7 11h1v1h-1zM11 11h1v1h-1zM13 11h5v1h-5zM19 11h1v1h-1zM21 11h8v1h-8zM35 11h2v1h-2zM1 12h1v1h-1zM4 12h1v1h-1zM6 12h1v1h-1zM10 12h1v1h-1zM20 12h5v1h-5zM30 12h2v1h-2zM0 13h1v1h-1zM2 13h3v1h-3zM9 13h3v1h-3zM16 13h3v1h-3zM20 13h1v1h-1zM22 13h3v1h-3zM28 13h1v1h-1zM30 13h3v1h-3zM34 13h1v1h-1zM0 14h2v1h-2zM4 14h3v1h-3zM8 14h1v1h-1zM10 14h1v1h-1zM13 14h1v1h-1zM18 14h1v1h-1zM20 14h9v1h-9zM30 14h1v1h-1zM33 14h1v1h-1zM0 15h3v1h-3zM5 15h1v1h-1zM7 15h3v1h-3zM11 15h1v1h-1zM13 15h2v1h-2zM16 15h2v1h-2zM26 15h1v1h-1zM28 15h1v1h-1zM31 15h2v1h-2zM34 15h3v1h-3zM0 16h1v1h-1zM3 16h1v1h-1zM5 16h6v1h-6zM12 16h2v1h-2zM16 16h8v1h-8zM27 16h2v1h-2zM30 16h4v1h-4zM35 16h1v1h-1zM2 17h4v1h-4zM10 17h2v1h-2zM14 17h1v1h-1zM16 17h2v1h-2zM22 17h3v1h-3zM31 17h1v1h-1zM33 17h1v1h-1zM35 17h1v1h-1zM1 18h3v1h-3zM6 18h2v1h-2zM10 18h2v1h-2zM13 18h3v1h-3zM19 18h3v1h-3zM24 18h3v1h-3zM28 18h2v1h-2zM32 18h4v1h-4zM0 19h1v1h-1zM4 19h1v1h-1zM8 19h2v1h-2zM11 19h1v1h-1zM13 19h4v1h-4zM19 19h3v1h-3zM23 19h4v1h-4zM32 19h2v1h-2zM36 19h1v1h-1zM1 20h7v1h-7zM9 20h1v1h-1zM11 20h2v1h-2zM15 20h4v1h-4zM20 20h2v1h-2zM23 20h2v1h-2zM27 20h3v1h-3zM31 20h1v1h-1zM34 20h2v1h-2zM1 21h1v1h-1zM3 21h3v1h-3zM10 21h3v1h-3zM15 21h4v1h-4zM20 21h1v1h-1zM26 21h3v1h-3zM30 21h2v1h-2zM33 21h3v1h-3zM0 22h1v1h-1zM4 22h4v1h-4zM9 22h3v1h-3zM17 22h1v1h-1zM19 22h1v1h-1zM21 22h1v1h-1zM23 22h4v1h-4zM29 22h2v1h-2zM33 22h1v1h-1zM0 23h2v1h-2zM5 23h1v1h-1zM7 23h2v1h-2zM12 23h1v1h-1zM14 23h2v1h-2zM18 23h1v1h-1zM21 23h5v1h-5zM28 23h3v1h-3zM32 23h3v1h-3zM0 24h3v1h-3zM5 24h2v1h-2zM8 24h3v1h-3zM12 24h1v1h-1zM14 24h2v1h-2zM18 24h2v1h-2zM21 24h2v1h-2zM24 24h1v1h-1zM26 24h1v1h-1zM28 24h3v1h-3zM34 24h1v1h-1zM36 24h1v1h-1zM1 25h2v1h-2zM5 25h1v1h-1zM9 25h2v1h-2zM13 25h2v1h-2zM16 25h1v1h-1zM20 25h1v1h-1zM22 25h2v1h-2zM26 25h3v1h-3zM30 25h3v1h-3zM35 25h1v1h-1zM1 26h1v1h-1zM3 26h1v1h-1zM6 26h3v1h-3zM10 26h1v1h-1zM12 26h3v1h-3zM16 26h2v1h-2zM20 26h8v1h-8zM29 26h1v1h-1zM31 26h1v1h-1zM35 26h1v1h-1zM0 27h1v1h-1zM2 27h1v1h-1zM7 27h1v1h-1zM9 27h1v1h-1zM12 27h1v1h-1zM15 27h2v1h-2zM18 27h1v1h-1zM20 27h1v1h-1zM22 27h1v1h-1zM25 27h2v1h-2zM28 27h4v1h-4zM35 27h1v1h-1zM0 28h1v1h-1zM3 28h1v1h-1zM6 28h1v1h-1zM8 28h1v1h-1zM11 28h1v1h-1zM13 28h1v1h-1zM16 28h1v1h-1zM18 28h2v1h-2zM21 28h1v1h-1zM23 28h1v1h-1zM28 28h6v1h-6zM36 28h1v1h-1zM10 29h1v1h-1zM12 29h2v1h-2zM15 29h3v1h-3zM21 29h3v1h-3zM26 29h1v1h-1zM28 29h1v1h-1zM32 29h2v1h-2zM35 29h2v1h-2zM0 30h7v1h-7zM11 30h4v1h-4zM18 30h1v1h-1zM21 30h1v1h-1zM23 30h6v1h-6zM30 30h1v1h-1zM32 30h2v1h-2zM35 30h1v1h-1zM0 31h1v1h-1zM6 31h1v1h-1zM8 31h1v1h-1zM12 31h1v1h-1zM14 31h2v1h-2zM21 31h1v1h-1zM25 31h1v1h-1zM28 31h1v1h-1zM32 31h4v1h-4zM0 32h1v1h-1zM2 32h3v1h-3zM6 32h1v1h-1zM8 32h1v1h-1zM10 32h1v1h-1zM14 32h1v1h-1zM18 32h4v1h-4zM27 32h10v1h-10zM0 33h1v1h-1zM2 33h3v1h-3zM6 33h1v1h-1zM8 33h2v1h-2zM11 33h1v1h-1zM14 33h1v1h-1zM16 33h1v1h-1zM18 33h3v1h-3zM23 33h3v1h-3zM27 33h3v1h-3zM31 33h1v1h-1zM33 33h2v1h-2zM36 33h1v1h-1zM0 34h1v1h-1zM2 34h3v1h-3zM6 34h1v1h-1zM8 34h2v1h-2zM11 34h1v1h-1zM13 34h3v1h-3zM18 34h1v1h-1zM20 34h2v1h-2zM26 34h3v1h-3zM32 34h2v1h-2zM36 34h1v1h-1zM0 35h1v1h-1zM6 35h1v1h-1zM8 35h3v1h-3zM12 35h3v1h-3zM17 35h1v1h-1zM19 35h2v1h-2zM24 35h2v1h-2zM27 35h5v1h-5zM36 35h1v1h-1zM0 36h7v1h-7zM8 36h2v1h-2zM17 36h2v1h-2zM20 36h2v1h-2zM25 36h3v1h-3zM29 36h1v1h-1zM32 36h1v1h-1zM35 36h2v1h-2z"/></g>
<rect x="511" y="768" width="24.5" height="24.5" fill="#fff"/><rect x="512" y="769" width="22.5" height="22.5" fill="#f04a4a"/><rect x="513.3" y="770.3" width="19.9" height="19.9" fill="none" stroke="#fbd0d0" stroke-width="0.6"/><path d="M523.3 771V790" stroke="#fbd0d0" stroke-width="0.6"/>
<text x="513.5" y="779" style="font:9px 'Noto Sans CJK SC',sans-serif;fill:#fff;stroke:none">以製</text>
<text x="513.5" y="789.5" style="font:9px 'Noto Sans CJK SC',sans-serif;fill:#fff;stroke:none">图版</text>
<path d="M498.5 832.5 Q528 824 573 837" stroke="#f29aa3" stroke-width="1.8" fill="none"/>
<text x="475.8" y="847.6" textLength="96" lengthAdjust="spacingAndGlyphs" style="font:bold 19.5px 'Liberation Sans',sans-serif;fill:#ec7580;stroke:#fff;stroke-width:2.5;stroke-linejoin:round">6xiu.com</text>
<text x="475.8" y="847.6" textLength="96" lengthAdjust="spacingAndGlyphs" style="font:bold 19.5px 'Liberation Sans',sans-serif;fill:#ec7580;stroke:#ec7580;stroke-width:0.7">6xiu.com</text>
</svg>
</body></html>
